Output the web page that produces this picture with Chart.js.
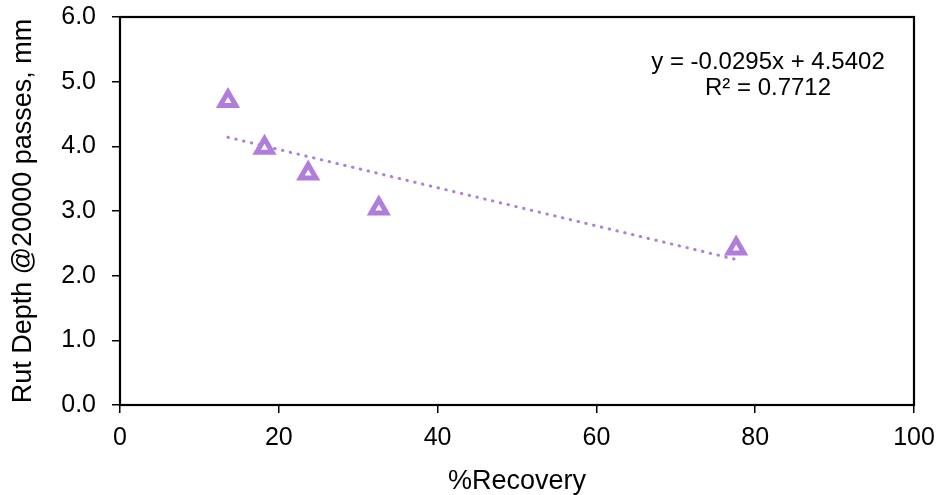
<!DOCTYPE html>
<html>
<head>
<meta charset="utf-8">
<script src="https://cdn.jsdelivr.net/npm/chart.js@4"></script>
<style>
  html, body { margin: 0; padding: 0; background: #fff; }
  #wrap { width: 942px; height: 495px; position: relative; }
</style>
</head>
<body>
<div id="wrap"><canvas id="rutChart"></canvas></div>
<script>
// values
const recovery = [13.6, 18.2, 23.7, 32.6, 77.6];
const rutDepth = [4.70, 3.98, 3.58, 3.04, 2.42];
const trendX = [13.6, 77.6];
const trendY = [4.14, 2.25];
const xTicks = [0, 20, 40, 60, 80, 100];
const yTicks = [0, 1, 2, 3, 4, 5, 6];
const eqLines = ['y = -0.0295x + 4.5402', 'R\u00b2 = 0.7712'];

const purple = '#b07ddc';
const fontFam = '"Liberation Sans", Arial, sans-serif';

const frame = {
    id: 'frame',
    afterDraw(chart) {
        const { ctx, chartArea: a } = chart;
        ctx.save();
        ctx.strokeStyle = '#000';
        ctx.lineWidth = 2.2;
        ctx.strokeRect(a.left, a.top, a.right - a.left, a.bottom - a.top);
        ctx.fillStyle = '#000';
        ctx.font = '24px ' + fontFam;
        ctx.textAlign = 'center';
        ctx.textBaseline = 'alphabetic';
        ctx.fillText(eqLines[0], 768, 69);
        ctx.fillText(eqLines[1], 768, 95);
        ctx.restore();
    }
};

new Chart(document.getElementById('rutChart'), {
    type: 'scatter',
    data: {
        datasets: [{
            label: 'Rut depth',
            data: recovery.map((x, i) => ({ x: x, y: rutDepth[i] })),
            pointStyle: 'triangle',
            pointRadius: 9,
            pointBorderWidth: 5,
            pointBackgroundColor: '#fff',
            pointBorderColor: purple,
            showLine: false
        }, {
            label: 'Trend',
            data: trendX.map((x, i) => ({ x: x, y: trendY[i] })),
            showLine: true,
            borderColor: purple,
            borderWidth: 3,
            borderDash: [0.5, 7.5],
            borderCapStyle: 'round',
            pointRadius: 0,
            fill: false
        }]
    },
    options: {
        responsive: true,
        maintainAspectRatio: false,
        animation: false,
        layout: { padding: { top: 17, right: 28, left: 0, bottom: 0 } },
        plugins: {
            legend: { display: false },
            tooltip: { enabled: false }
        },
        scales: {
            x: {
                type: 'linear',
                min: 0, max: 100,
                afterFit(s) { s.height = 90; s.paddingLeft = 0; s.paddingRight = 0; },
                afterBuildTicks(s) { s.ticks = xTicks.map(v => ({ value: v })); },
                grid: { drawOnChartArea: false, drawTicks: true, tickLength: 8, color: '#000', lineWidth: 1.5 },
                border: { display: false },
                ticks: { color: '#000', font: { size: 25, family: fontFam }, padding: 10 },
                title: { display: true, text: '%Recovery', color: '#000', font: { size: 27, family: fontFam }, padding: { top: 0, bottom: -3 } }
            },
            y: {
                min: 0, max: 6,
                afterFit(s) { s.width = 120; s.paddingTop = 0; s.paddingBottom = 0; },
                afterBuildTicks(s) { s.ticks = yTicks.map(v => ({ value: v })); },
                grid: { drawOnChartArea: false, drawTicks: true, tickLength: 8, color: '#000', lineWidth: 1.5 },
                border: { display: false },
                ticks: { color: '#000', font: { size: 25, family: fontFam }, padding: 16, callback: v => v.toFixed(1) },
                title: { display: true, text: 'Rut Depth @20000 passes, mm', color: '#000', font: { size: 27, family: fontFam }, padding: { top: 7 } }
            }
        }
    },
    plugins: [frame]
});
</script>
</body>
</html>
